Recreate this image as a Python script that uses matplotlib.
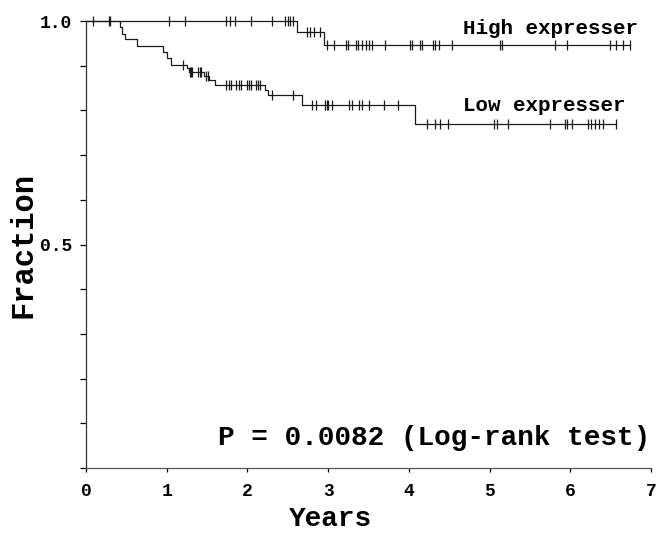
import numpy as np
import matplotlib
matplotlib.use("Agg")
import matplotlib.pyplot as plt

plt.rcParams['font.family'] = ['Liberation Mono', 'DejaVu Sans Mono']
plt.rcParams['font.weight'] = 'bold'
plt.rcParams['axes.labelweight'] = 'bold'

# step curves (event times in years, survival fraction after the step)
high_times = [0.0, 2.62, 2.95]
high_surv = [1.0, 0.976, 0.947]
high_end = 6.74
high_censor = [0.09, 0.28, 0.30, 1.03, 1.23, 1.74, 1.78, 1.84, 2.05, 2.30,
               2.47, 2.50, 2.53, 2.56, 2.74, 2.77, 2.83, 2.90, 2.98, 3.07,
               3.22, 3.25, 3.34, 3.37, 3.42, 3.47, 3.51, 3.54, 3.71, 4.02,
               4.04, 4.14, 4.16, 4.30, 4.32, 4.37, 4.53, 5.13, 5.15, 5.81,
               5.96, 6.49, 6.57, 6.65, 6.74]

low_times = [0.0, 0.42, 0.45, 0.48, 0.63, 0.95, 1.00, 1.05, 1.25, 1.27,
             1.46, 1.53, 1.60, 2.22, 2.26, 2.68, 4.07]
low_surv = [1.0, 0.986, 0.972, 0.959, 0.945, 0.931, 0.917, 0.902, 0.894,
            0.887, 0.877, 0.867, 0.856, 0.845, 0.834, 0.811, 0.770]
low_end = 6.57
low_censor = [1.20, 1.29, 1.30, 1.31, 1.39, 1.41, 1.43, 1.49, 1.51, 1.74,
              1.77, 1.80, 1.86, 1.89, 1.92, 1.99, 2.02, 2.04, 2.10, 2.13,
              2.16, 2.30, 2.57, 2.80, 2.85, 2.96, 2.98, 3.00, 3.05, 3.26,
              3.30, 3.38, 3.42, 3.51, 3.69, 3.87, 4.23, 4.33, 4.39, 4.49,
              5.06, 5.09, 5.23, 5.75, 5.93, 5.96, 6.02, 6.22, 6.26, 6.30,
              6.35, 6.41, 6.57]

x_ticks = [0, 1, 2, 3, 4, 5, 6, 7]
y_ticks = [0.0, 0.1, 0.2, 0.3, 0.4, 0.5, 0.6, 0.7, 0.8, 0.9, 1.0]
y_tick_labels = ['', '', '', '', '', '0.5', '', '', '', '', '1.0']

line_color = '#1a1a1a'


def draw_group(ax, times, surv, end, censor):
    t = np.append(times, end)
    s = np.append(surv, surv[-1])
    ax.step(t, s, where='post', color=line_color, lw=0.9, clip_on=False)
    idx = np.searchsorted(times, censor, side='right') - 1
    cy = np.array(surv)[idx]
    ax.plot(censor, cy, ls='none', marker='|', ms=6.5, mew=0.9,
            color=line_color, clip_on=False)


fig = plt.figure(figsize=(6.58, 5.35), dpi=100)
ax = fig.add_axes([86 / 658, 67 / 535, 565 / 658, 447 / 535])

draw_group(ax, high_times, high_surv, high_end, high_censor)
draw_group(ax, low_times, low_surv, low_end, low_censor)

ax.set_xlim(0, 7)
ax.set_ylim(0, 1.0)
ax.spines['top'].set_visible(False)
ax.spines['right'].set_visible(False)
ax.spines['left'].set_linewidth(0.9)
ax.spines['bottom'].set_linewidth(0.9)
ax.spines['left'].set_color('#333333')
ax.spines['bottom'].set_color('#555555')

ax.set_xticks(x_ticks)
ax.set_xticklabels([str(v) for v in x_ticks])
ax.set_yticks(y_ticks)
ax.set_yticklabels(y_tick_labels)
ax.tick_params(axis='x', length=3, width=0.9, pad=8, labelsize=13)
ax.tick_params(axis='y', length=4, width=0.9, pad=6, labelsize=13)

ax.set_xlabel('Years', fontsize=20, fontweight='bold')
ax.set_ylabel('Fraction', fontsize=22, fontweight='bold')
ax.xaxis.set_label_coords(0.432, -0.115)
ax.xaxis.label.set_va('center')
ax.yaxis.set_label_coords(-0.11, 0.5)
ax.yaxis.label.set_va('center')

ax.text(4.67, 0.984, 'High expresser', fontsize=15, va='center', ha='left')
ax.text(4.67, 0.811, 'Low expresser', fontsize=15, va='center', ha='left')
ax.text(1.64, 0.067, 'P = 0.0082 (Log-rank test)', fontsize=20,
        va='center', ha='left')

fig.savefig('out.png', dpi=100)
